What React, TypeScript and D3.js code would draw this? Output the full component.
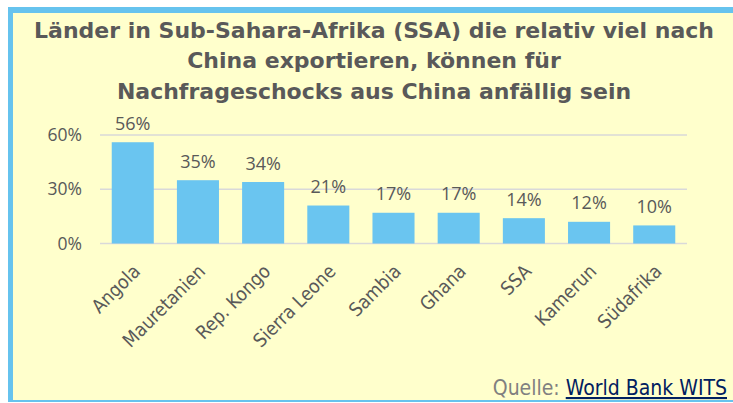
import React from "react";
import * as d3 from "d3";

const categories = ["Angola", "Mauretanien", "Rep. Kongo", "Sierra Leone", "Sambia", "Ghana", "SSA", "Kamerun", "Südafrika"];
const values = [56, 35, 34, 21, 17, 17, 14, 12, 10];
const valueLabels = ["56%", "35%", "34%", "21%", "17%", "17%", "14%", "12%", "10%"];
const yTicks = [0, 30, 60];
const titleLines = [
  "Länder in Sub-Sahara-Afrika (SSA) die relativ viel nach",
  "China exportieren, können für",
  "Nachfrageschocks aus China anfällig sein",
];

export default function App() {
  const W = 733, H = 403;
  const x = d3.scaleBand<string>().domain(categories).range([100, 687]).paddingInner(0.355).paddingOuter(0.18);
  const y = d3.scaleLinear().domain([0, 60]).range([243.5, 135]);
  const textCol = "#595959";
  return (
    <svg width={W} height={H} style={{ position: "absolute", left: 0, top: 0 }}>
      <rect x={0} y={0} width={W} height={H} fill="#ffffff" />
      <rect x={8} y={7} width={W - 8} height={395} fill="#FFFFCC" />
      <rect x={8} y={7} width={W - 8} height={6} fill="#66C3EE" />
      <rect x={8} y={7} width={5} height={395} fill="#66C3EE" />
      <rect x={8} y={400} width={W - 8} height={2} fill="#66C3EE" />
      {titleLines.map((t, i) => (
        <text key={i} x={374} y={37.5 + i * 30.5} textAnchor="middle" fontFamily="'DejaVu Sans'" fontWeight="bold" fontSize={22} fill={textCol}>{t}</text>
      ))}
      {yTicks.map((t) => (
        <g key={t}>
          <line x1={100} x2={687} y1={y(t)} y2={y(t)} stroke="#D9D9D9" strokeWidth={1.5} />
          <text x={82} y={y(t)} dy="0.35em" textAnchor="end" fontFamily="'Open Sans', 'Liberation Sans'" fontSize={17.5} fill={textCol}>{t}%</text>
        </g>
      ))}
      {categories.map((c, i) => {
        const bx = x(c)!;
        const cx = bx + x.bandwidth() / 2;
        return (
          <g key={c}>
            <rect x={bx} y={y(values[i])} width={x.bandwidth()} height={y(0) - y(values[i])} fill="#6AC5F0" />
            <text x={cx} y={y(values[i]) - 12.5} textAnchor="middle" fontFamily="'Open Sans', 'Liberation Sans'" fontSize={18} fill={textCol}>{valueLabels[i]}</text>
            <text transform={`translate(${cx - 1},${263}) rotate(-45)`} textAnchor="end" dy="0.71em" fontFamily="'DejaVu Sans Condensed', 'DejaVu Sans'" fontSize={19} fill={textCol}>{c}</text>
          </g>
        );
      })}
      <text x={727} y={395} textAnchor="end" fontFamily="'DejaVu Sans Condensed', 'DejaVu Sans'" fontSize={21}>
        <tspan fill="#808080">Quelle: </tspan>
        <tspan fill="#002060" textDecoration="underline">World Bank WITS</tspan>
      </text>
    </svg>
  );
}
